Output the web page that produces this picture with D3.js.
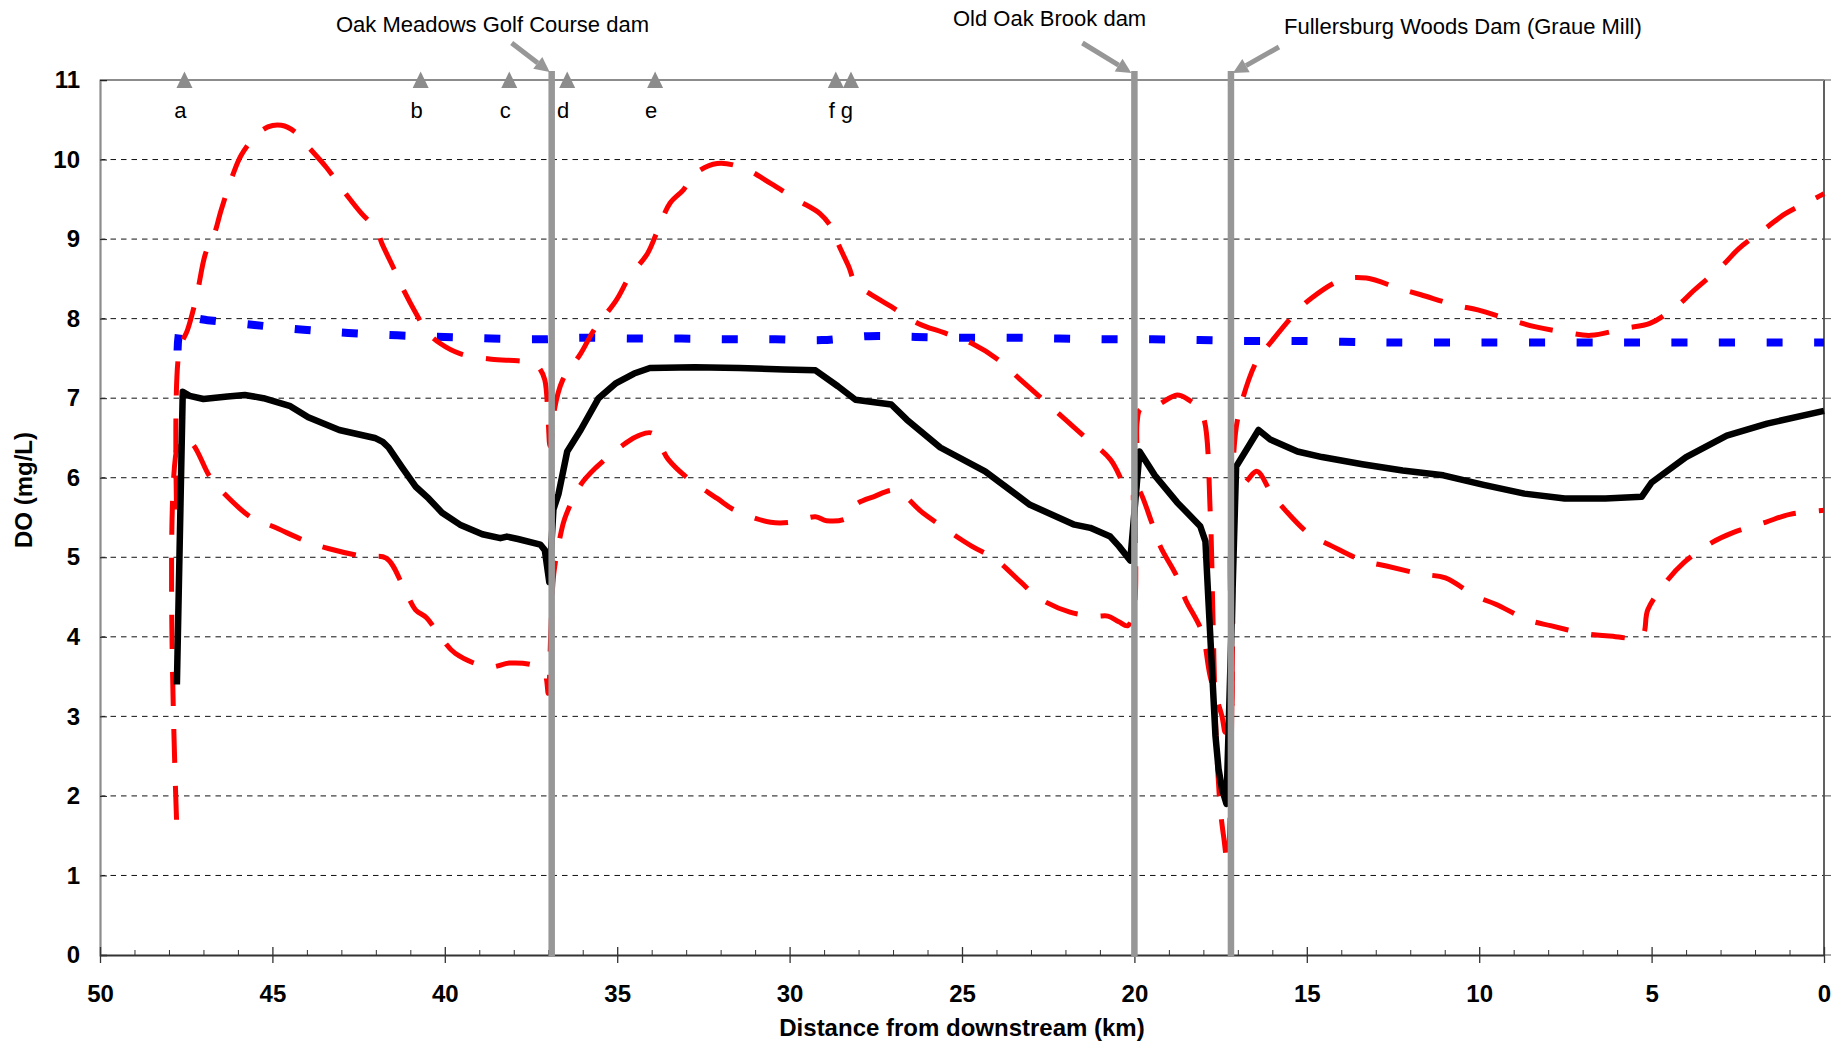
<!DOCTYPE html>
<html>
<head>
<meta charset="utf-8">
<script src="https://cdn.jsdelivr.net/npm/d3@7"></script>
<style>
  html, body { margin: 0; padding: 0; background: #fff; }
  svg { display: block; }
</style>
</head>
<body>
<svg id="chart" width="1835" height="1042"></svg>
<script>
// ---------------- DATA ----------------
const xTicksMajor = [50, 45, 40, 35, 30, 25, 20, 15, 10, 5, 0];
const yTicks = [0, 1, 2, 3, 4, 5, 6, 7, 8, 9, 10, 11];

// Black solid line: [distance km, DO mg/L]
const blackLine = [
  [47.77,3.4],[47.6,7.08],[47.4,7.03],[47.0,6.99],[46.3,7.02],[45.8,7.04],[45.26,7.0],
  [44.48,6.9],[43.96,6.76],[43.06,6.6],[42.03,6.5],[41.8,6.45],[41.63,6.38],[41.24,6.13],
  [40.85,5.89],[40.47,5.74],[40.08,5.56],[39.56,5.41],[38.91,5.29],[38.39,5.24],[38.2,5.26],
  [37.88,5.23],[37.23,5.16],[37.1,5.09],[36.97,4.69],[36.85,5.6],[36.7,5.8],[36.45,6.33],
  [36.06,6.6],[35.54,7.0],[35.03,7.19],[34.51,7.31],[34.05,7.38],[32.75,7.39],[31.45,7.38],
  [30.16,7.36],[29.25,7.35],[28.6,7.15],[28.09,6.98],[27.05,6.92],[26.6,6.73],[25.63,6.38],
  [24.33,6.08],[23.03,5.66],[21.74,5.41],[21.28,5.37],[20.7,5.26],[20.45,5.14],[20.12,4.96],
  [19.85,6.33],[19.41,6.03],[18.76,5.69],[18.09,5.39],[17.94,5.2],[17.85,4.43],[17.75,3.6],
  [17.65,2.76],[17.56,2.34],[17.46,2.09],[17.33,1.9],[17.05,6.14],[16.4,6.6],[16.06,6.48],
  [15.27,6.33],[14.56,6.26],[13.39,6.17],[12.22,6.09],[11.04,6.03],[9.87,5.91],[8.69,5.8],
  [7.52,5.74],[6.34,5.74],[5.29,5.76],[5.0,5.94],[4.0,6.26],[2.82,6.53],[1.65,6.68],[0,6.84]
];

// Red dashed line A (higher left hump)
const redLineA = [
  [47.78,5.6],[47.7,7.6],[47.46,7.86],[47.2,8.28],[46.94,8.82],[46.68,9.07],[46.49,9.36],
  [46.17,9.78],[45.91,10.05],[45.52,10.28],[45.13,10.41],[44.74,10.43],[44.35,10.35],
  [43.96,10.16],[43.45,9.91],[42.8,9.53],[42.41,9.32],[41.96,9.11],[41.83,8.95],[41.5,8.65],
  [41.24,8.4],[40.79,8.03],[40.53,7.84],[40.14,7.69],[39.56,7.56],[38.65,7.49],[37.88,7.47],
  [37.42,7.44],[37.23,7.36],[37.1,7.23],[37.0,6.7],[36.95,6.4],[36.9,6.5],[36.84,6.81],
  [36.58,7.23],[36.06,7.56],[35.67,7.86],[35.03,8.23],[34.64,8.53],[34.12,8.82],[33.79,9.15],
  [33.47,9.45],[33.08,9.62],[32.75,9.82],[32.1,9.95],[31.32,9.89],[30.55,9.7],[29.77,9.49],
  [29.12,9.32],[28.73,9.11],[28.6,8.95],[28.28,8.65],[28.09,8.44],[27.7,8.32],[27.05,8.15],
  [26.27,7.94],[25.5,7.82],[24.72,7.69],[23.94,7.48],[23.3,7.23],[22.65,6.98],[22.0,6.73],
  [21.48,6.53],[20.7,6.23],[20.36,5.96],[20.12,5.75],[19.97,5.8],[19.92,6.7],[19.83,6.86],
  [19.39,6.9],[18.76,7.04],[18.43,6.98],[18.2,6.9],[17.99,6.75],[17.8,5.56],[17.72,4.2],
  [17.65,3.0],[17.58,2.3],[17.5,1.8],[17.4,1.45],[17.3,1.15],[17.15,4.0],[17.12,6.3],
  [16.97,6.81],[16.44,7.48],[16.03,7.71],[15.33,8.07],[14.86,8.26],[13.98,8.49],[13.27,8.51],
  [12.33,8.38],[11.69,8.3],[10.69,8.17],[10.04,8.11],[9.05,7.98],[8.39,7.9],[7.4,7.82],
  [6.76,7.79],[5.76,7.88],[5.05,7.94],[4.23,8.17],[3.76,8.36],[2.94,8.67],[2.47,8.88],
  [1.65,9.15],[1.12,9.32],[0.18,9.53],[0,9.57]
];

// Red dashed line B (lower)
const redLineB = [
  [47.78,1.7],[47.66,6.5],[47.33,6.43],[46.81,6.01],[46.42,5.81],[45.58,5.49],[45.0,5.39],
  [43.96,5.19],[43.38,5.11],[42.34,5.01],[41.7,4.99],[41.18,4.61],[40.85,4.34],[40.53,4.24],
  [40.14,4.01],[39.69,3.79],[38.72,3.62],[38.13,3.67],[37.49,3.65],[37.36,3.62],[37.1,3.54],
  [37.0,3.29],[36.93,4.0],[36.84,4.79],[36.64,5.29],[36.52,5.49],[36.06,5.91],[35.61,6.13],
  [34.77,6.43],[34.38,6.53],[33.99,6.56],[33.52,6.23],[33.0,6.01],[32.1,5.74],[31.58,5.59],
  [30.55,5.44],[29.96,5.44],[29.25,5.51],[28.93,5.46],[28.35,5.49],[28.09,5.66],[27.57,5.76],
  [26.92,5.84],[26.14,5.56],[24.72,5.14],[24.07,4.99],[23.3,4.69],[22.78,4.49],[21.87,4.31],
  [21.1,4.26],[20.77,4.26],[20.45,4.19],[20.19,4.14],[20.0,4.4],[19.9,5.85],[19.49,5.43],
  [19.25,5.14],[18.76,4.75],[18.52,4.47],[18.04,4.06],[17.8,3.5],[17.46,3.0],[17.36,2.8],
  [17.2,3.0],[17.1,5.7],[16.68,5.99],[16.44,6.08],[16.03,5.81],[15.62,5.59],[14.92,5.29],
  [14.27,5.14],[13.39,4.96],[12.69,4.89],[11.69,4.79],[10.98,4.74],[10.1,4.51],[9.52,4.41],
  [8.57,4.21],[7.93,4.14],[6.93,4.04],[6.23,4.01],[5.29,4.01],[5.11,4.34],[4.58,4.69],
  [4.05,4.94],[3.23,5.19],[2.64,5.31],[1.7,5.44],[0.99,5.54],[0,5.59]
];

// Blue dotted line
const blueLine = [
  [47.75,7.6],[47.62,7.95],[47.3,8.0],[46.88,7.98],[45.52,7.92],[44.09,7.86],[42.8,7.82],
  [41.37,7.79],[40.01,7.77],[38.65,7.75],[37.23,7.74],[35.93,7.76],[34.51,7.75],[33.14,7.75],
  [31.78,7.74],[30.42,7.74],[29.06,7.73],[27.7,7.78],[26.34,7.77],[24.98,7.76],[23.55,7.76],
  [22.19,7.75],[20.83,7.74],[19.47,7.74],[18.12,7.73],[16.75,7.72],[15.4,7.72],[13.97,7.71],
  [12.62,7.70],[10.0,7.70],[7.0,7.70],[4.0,7.70],[0,7.70]
];

// Site markers along the top
const siteNames = ["a", "b", "c", "d", "e", "f", "g"];
const siteKm = [47.55, 40.7, 38.13, 36.45, 33.9, 28.66, 28.22];

// Dams
const damNames = ["Oak Meadows Golf Course dam", "Old Oak Brook dam", "Fullersburg Woods Dam (Graue Mill)"];
const damKm = [36.9, 20.0, 17.2];

// ---------------- LAYOUT ----------------
const svg = d3.select("#chart");
const L = 100, R = 1824, T = 80, B = 955;
const x = d3.scaleLinear().domain([50, 0]).range([L, R]);
const y = d3.scaleLinear().domain([0, 11]).range([B, T]);
const FONT = "'Liberation Sans', Arial, Helvetica, sans-serif";

svg.append("rect").attr("width", 1835).attr("height", 1042).attr("fill", "#fff");

// Gridlines
svg.append("g").selectAll("line")
  .data(yTicks.filter(v => v > 0 && v < 11))
  .join("line")
  .attr("x1", L).attr("x2", R)
  .attr("y1", d => y(d)).attr("y2", d => y(d))
  .attr("stroke", "#111").attr("stroke-width", 1)
  .attr("stroke-dasharray", "5.5,5");

// Right border + outside ticks
svg.append("line").attr("x1", R).attr("x2", R).attr("y1", T).attr("y2", B)
  .attr("stroke", "#505050").attr("stroke-width", 1.8);
svg.append("g").selectAll("line").data(yTicks).join("line")
  .attr("x1", R).attr("x2", R + 7)
  .attr("y1", d => y(d)).attr("y2", d => y(d))
  .attr("stroke", "#505050").attr("stroke-width", 1);

// Top border
svg.append("line").attr("x1", L).attr("x2", R).attr("y1", T).attr("y2", T)
  .attr("stroke", "#8c8c8c").attr("stroke-width", 2.2);

// Y axis
const yAxis = svg.append("g").attr("transform", `translate(${L},0)`)
  .call(d3.axisLeft(y).tickValues(yTicks).tickSize(-7).tickPadding(20).tickFormat(d3.format("d")));
yAxis.select(".domain").attr("stroke", "#8c8c8c").attr("stroke-width", 2.2);
yAxis.selectAll(".tick line").attr("stroke", "#222");
yAxis.selectAll("text").attr("font-family", FONT).attr("font-size", 24)
  .attr("font-weight", "bold").attr("fill", "#000");

// X axis minor ticks (inside)
const minorKm = d3.range(0, 51).filter(v => v % 5 !== 0);
svg.append("g").attr("transform", `translate(0,${B})`)
  .call(d3.axisBottom(x).tickValues(minorKm).tickSize(-5).tickFormat(""))
  .call(g => g.select(".domain").remove())
  .selectAll(".tick line").attr("stroke", "#333");

// X axis major
const xAxis = svg.append("g").attr("transform", `translate(0,${B})`)
  .call(d3.axisBottom(x).tickValues(xTicksMajor).tickSize(8).tickSizeOuter(0).tickPadding(22).tickFormat(d3.format("d")));
xAxis.select(".domain").attr("stroke", "#333").attr("stroke-width", 2.2);
xAxis.selectAll(".tick line").attr("y1", -8).attr("y2", 8).attr("stroke", "#333").attr("stroke-width", 1.3);
xAxis.selectAll("text").attr("font-family", FONT).attr("font-size", 24)
  .attr("font-weight", "bold").attr("fill", "#000");

// Axis titles
svg.append("text").attr("x", (L + R) / 2).attr("y", 1036)
  .attr("text-anchor", "middle").attr("font-family", FONT).attr("font-size", 24)
  .attr("font-weight", "bold").text("Distance from downstream (km)");
svg.append("text").attr("transform", "translate(32,490) rotate(-90)")
  .attr("text-anchor", "middle").attr("font-family", FONT).attr("font-size", 24)
  .attr("font-weight", "bold").text("DO (mg/L)");

// Data lines
const lineLin = d3.line().x(d => x(d[0])).y(d => y(d[1]));
const lineSmooth = d3.line().x(d => x(d[0])).y(d => y(d[1])).curve(d3.curveCatmullRom.alpha(0.5));

svg.append("path").datum(blueLine).attr("d", lineSmooth)
  .attr("fill", "none").attr("stroke", "#0000ff").attr("stroke-width", 8)
  .attr("stroke-dasharray", "16,31.5");

svg.append("path").datum(redLineB).attr("d", lineSmooth)
  .attr("fill", "none").attr("stroke", "#ff0000").attr("stroke-width", 5)
  .attr("stroke-dasharray", "34,23");
svg.append("path").datum(redLineA).attr("d", lineSmooth)
  .attr("fill", "none").attr("stroke", "#ff0000").attr("stroke-width", 5)
  .attr("stroke-dasharray", "34,23");

svg.append("path").datum(blackLine).attr("d", lineLin)
  .attr("fill", "none").attr("stroke", "#000").attr("stroke-width", 6.5)
  .attr("stroke-linejoin", "round");

// Dam lines
const GRAY = "#979797";
svg.append("g").selectAll("line").data(damKm).join("line")
  .attr("x1", d => x(d)).attr("x2", d => x(d))
  .attr("y1", 71).attr("y2", 957)
  .attr("stroke", GRAY).attr("stroke-width", 6.5);

// Dam labels and arrows
const damLayout = [
  { tx: 336, ty: 32, sx: -40, sy: 43, ex: -2, ey: 72 },
  { tx: 953, ty: 26, sx: -52, sy: 43, ex: -3, ey: 73 },
  { tx: 1284, ty: 34, sx: 48, sy: 47, ex: 2, ey: 73 }
];
damNames.forEach((name, i) => {
  const lay = damLayout[i];
  const dx = x(damKm[i]);
  svg.append("text").attr("x", lay.tx).attr("y", lay.ty)
    .attr("font-family", FONT).attr("font-size", 22).attr("fill", "#000").text(name);
  const x0 = dx + lay.sx, y0 = lay.sy, x1 = dx + lay.ex, y1 = lay.ey;
  const ang = Math.atan2(y1 - y0, x1 - x0);
  const hl = 15, hw = 7.5;
  const bx = x1 - hl * Math.cos(ang), by = y1 - hl * Math.sin(ang);
  svg.append("line").attr("x1", x0).attr("y1", y0).attr("x2", bx).attr("y2", by)
    .attr("stroke", GRAY).attr("stroke-width", 5);
  const px = -Math.sin(ang), py = Math.cos(ang);
  svg.append("path")
    .attr("d", `M${x1},${y1}L${bx + px * hw},${by + py * hw}L${bx - px * hw},${by - py * hw}Z`)
    .attr("fill", GRAY);
});

// Site markers
siteKm.forEach((km, i) => {
  const cx = x(km);
  svg.append("path").attr("d", `M${cx},${T - 8.5}L${cx + 8},${T + 8}L${cx - 8},${T + 8}Z`)
    .attr("fill", "#8c8c8c");
  svg.append("text").attr("x", cx - 4).attr("y", 118)
    .attr("text-anchor", "middle").attr("font-family", FONT).attr("font-size", 22)
    .attr("fill", "#000").text(siteNames[i]);
});
</script>
</body>
</html>
